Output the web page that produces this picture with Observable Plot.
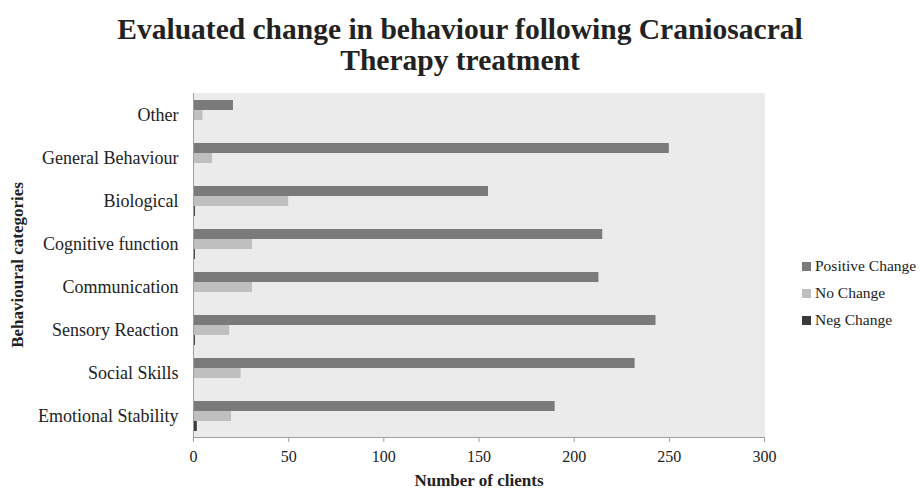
<!DOCTYPE html>
<html>
<head>
<meta charset="utf-8">
<script src="https://cdn.jsdelivr.net/npm/d3@7"></script>
<script src="https://cdn.jsdelivr.net/npm/@observablehq/plot@0.6"></script>
<style>
  html, body { margin: 0; padding: 0; background: #fff; }
  #wrap { position: relative; width: 920px; height: 489px; overflow: hidden; font-family: "Liberation Serif", serif; color: #222; }
  #title { position: absolute; left: 0; top: 14px; width: 920px; text-align: center; font-weight: bold; font-size: 29.5px; line-height: 31px; }
  #chart { position: absolute; left: 0; top: 85px; }
  #ytitle { position: absolute; left: -132px; top: 254px; width: 300px; height: 22px; line-height: 22px; text-align: center; font-weight: bold; font-size: 17px; transform: rotate(-90deg); }
  #xtitle { position: absolute; left: 279px; top: 471px; width: 400px; height: 20px; line-height: 20px; text-align: center; font-weight: bold; font-size: 17px; }
  #legend { position: absolute; left: 802px; top: 256px; font-size: 15.5px; }
  .item { height: 27px; line-height: 20px; display: flex; align-items: flex-start; }
  .sw { width: 9px; height: 9px; margin-top: 6px; margin-right: 4px; }
</style>
</head>
<body>
<div id="wrap">
  <div id="title">Evaluated change in behaviour following Craniosacral<br>Therapy treatment</div>
  <div id="chart"></div>
  <div id="ytitle">Behavioural categories</div>
  <div id="xtitle">Number of clients</div>
  <div id="legend"></div>
</div>
<script>
const categories = ["Other", "General Behaviour", "Biological", "Cognitive function", "Communication", "Sensory Reaction", "Social Skills", "Emotional Stability"];
const series = ["Positive Change", "No Change", "Neg Change"];
const positive = [21, 250, 155, 215, 213, 243, 232, 190];
const noChange = [5, 10, 50, 31, 31, 19, 25, 20];
const negChange = [0, 0, 1, 1, 0, 1, 0, 2];
const xTicks = [0, 50, 100, 150, 200, 250, 300];
const colors = ["#7a7a7a", "#bfbfbf", "#3a3a3a"];

const valuesBySeries = [positive, noChange, negChange];
const data = categories.flatMap((c, i) => series.map((s, j) => ({category: c, series: s, value: valuesBySeries[j][i]})));

const plot = Plot.plot({
  width: 920,
  height: 404,
  marginTop: 7,
  marginBottom: 52,
  marginLeft: 193,
  marginRight: 156,
  style: {fontFamily: "Liberation Serif, serif", fontSize: "16px", color: "#222", background: "transparent"},
  x: {domain: [0, 300]},
  y: {domain: series, axis: null, paddingInner: 0.05, paddingOuter: 0.65},
  fy: {domain: categories, padding: 0, label: null},
  color: {domain: series, range: colors},
  marks: [
    Plot.frame({fill: "#ebebeb", stroke: "#ebebeb"}),
    Plot.barX(data, {x: "value", y: "series", fy: "category", fill: "series"}),
    Plot.ruleX([0], {stroke: "#a0a0a0"}),
    Plot.frame({anchor: "bottom", stroke: "#a0a0a0", facetAnchor: "bottom"}),
    Plot.axisX({ticks: xTicks, tickSize: 5, tickPadding: 8, fontSize: 16, stroke: "#a0a0a0", fill: "#222", label: null}),
    Plot.axisFy({anchor: "left", tickSize: 0, tickPadding: 15, fontSize: 18, fill: "#222", label: null})
  ]
});
document.getElementById("chart").appendChild(plot);

const legend = document.getElementById("legend");
series.forEach((s, i) => {
  const item = document.createElement("div");
  item.className = "item";
  const sw = document.createElement("div");
  sw.className = "sw";
  sw.style.background = colors[i];
  const t = document.createElement("span");
  t.textContent = s;
  item.appendChild(sw);
  item.appendChild(t);
  legend.appendChild(item);
});
</script>
</body>
</html>
